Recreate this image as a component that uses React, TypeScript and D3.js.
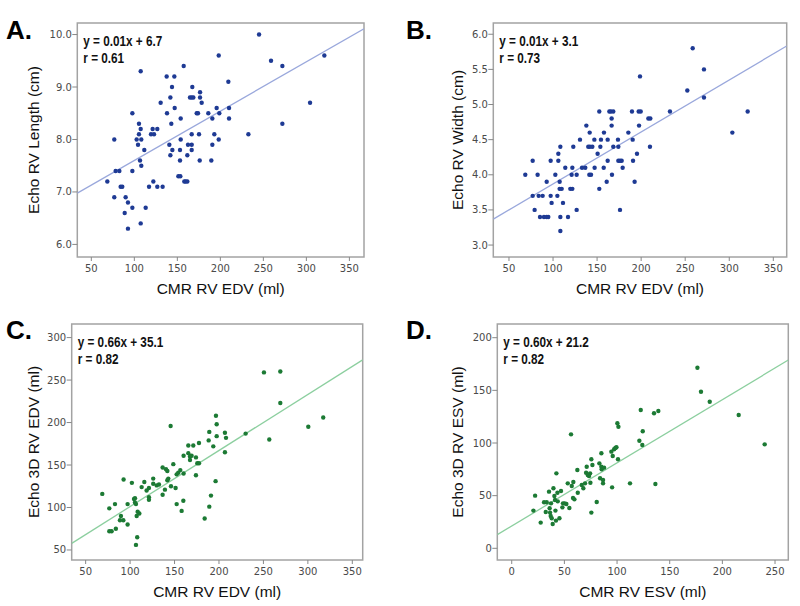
import React from "react";
import * as d3 from "d3";

// CMR RV EDV (ml) vs Echo RV Length (cm)
const lengthPts: [number, number][] = [
  [68.6,7.2],[76.7,8.0],[76.7,6.9],[78.3,7.4],[82.6,7.4],[84.1,7.1],[86,7.1],[88.8,6.6],[89.9,6.9],[92.6,6.8],
  [92.6,6.3],[97.7,8.5],[97.7,7.4],[97.7,6.7],[102.7,8.0],[104.3,7.9],[105.4,8.3],[105.4,8.1],[106.6,7.6],[107.4,9.3],
  [107.4,8.2],[108.1,8.0],[108.1,7.5],[107.4,6.4],[111.6,7.8],[113.2,6.7],[117.1,7.1],[119.4,8.1],[121.3,8.2],[122.1,7.2],
  [122.9,8.1],[126.7,8.2],[126.7,7.1],[130.6,8.7],[132.9,7.1],[137.6,9.2],[138,8.5],[140.7,7.9],[141.9,8.8],[141.9,7.7],
  [143,8.3],[143.8,9.0],[144.2,7.8],[146.5,9.2],[146.9,8.6],[151.2,7.3],[153.5,7.3],[153.1,7.6],[153.1,7.8],[153.9,8.4],
  [153.9,8.0],[157.4,9.4],[158.1,7.2],[159.7,7.2],[161.6,7.2],[161.6,7.7],[162.4,7.9],[164.7,8.8],[166.7,8.8],[168.6,8.8],
  [166.7,8.1],[166.7,7.9],[166.7,7.8],[167.4,9.0],[172.5,8.5],[174,8.5],[175.2,8.1],[176,7.6],[176.4,8.9],[176.4,8.8],
  [178.3,8.7],[186,8.5],[189.5,7.6],[190.7,8.4],[190.7,7.9],[193,8.1],[195.7,8.6],[198.1,9.6],[198.1,8.0],[198.8,8.5],
  [209.3,9.1],[210.1,8.6],[210.1,8.4],[232.6,8.1],[245,10.0],[258.9,9.5],[272.1,9.4],[272.1,8.3],[304.3,8.7],[320.9,9.6],
];

// CMR RV EDV (ml) vs Echo RV Width (cm)
const widthPts: [number, number][] = [
  [68.5,4.0],[76.9,4.2],[76.9,3.7],[79.1,3.5],[82.5,4.0],[83.7,3.7],[88.2,3.7],[85.2,3.4],[89.7,3.4],[92.8,3.4],
  [94.6,3.4],[92.8,3.9],[97.3,4.2],[97.3,3.7],[98.4,3.6],[102.6,4.0],[104.9,3.7],[106,4.3],[106,4.2],[107.5,3.9],
  [107.5,3.8],[109.8,3.8],[108.3,4.4],[108.3,3.4],[108.3,3.2],[111.3,3.6],[113.9,4.1],[117,3.4],[119.6,3.8],[121.9,3.8],
  [121.1,4.0],[121.9,4.1],[123,4.4],[126.8,4.0],[126.8,3.5],[130.6,4.5],[132.9,4.1],[136.6,4.1],[137.8,4.7],[140,4.4],
  [141.9,4.4],[144.6,4.4],[141.6,4.6],[141.2,4.0],[143.1,4.0],[146.9,4.5],[147.2,4.1],[150.6,4.3],[152.5,4.9],[152.5,3.8],
  [153.7,4.4],[154.4,4.5],[157.5,4.1],[157.8,4.6],[160.9,3.9],[162,4.2],[162,4.5],[163.9,4.9],[165.8,4.9],[168.4,4.9],
  [166.5,4.8],[166.5,4.7],[166.9,4.0],[168.4,4.4],[173.7,4.5],[174.1,4.4],[174.1,4.2],[176,4.2],[177.9,4.2],[176,3.5],
  [179,4.1],[185.5,4.6],[189.6,4.9],[190.4,4.5],[190.8,4.2],[192.6,3.9],[195.3,4.3],[197.2,4.9],[199.5,4.9],[197.6,4.7],
  [198.7,5.4],[208.2,4.8],[210.4,4.8],[210,4.4],[232.7,4.9],[252.4,5.2],[258.5,5.8],[271.3,5.5],[271.3,5.1],[303.5,4.6],
  [320.9,4.9],
];

// CMR RV EDV (ml) vs Echo 3D RV EDV (ml)
const edvPts: [number, number][] = [
  [68.7,116],[76.6,99],[76.6,72],[79.2,72],[83,104],[84,75],[88.6,85],[89.7,90],[92.4,85],[92.7,133],
  [97.2,104],[97.2,80],[102,129],[104.4,110],[105.5,106],[106.6,104],[105.5,111],[106.6,56],[107.4,90],[108,65],
  [108.5,95],[110.4,93],[113,124],[116,130],[118.6,120],[121.2,123],[121.2,112],[121.2,109],[126,134],[126,128],
  [129.9,126],[132.5,127],[136.6,115],[136.6,147],[139.2,121],[140.4,145],[141.9,143],[141.9,132],[143,134],[145.6,196],
  [146,125],[148.6,151],[151.2,123],[152.4,104],[152.4,139],[154.2,141],[156.5,144],[158,96],[159.9,108],[160.2,140],
  [160.2,161],[165.5,173],[165.5,164],[167.4,160],[167.4,156],[169.2,161],[171.1,173],[174.1,159],[175.6,152],[177.5,152],
  [174.1,138],[177.5,176],[183.9,87],[188.4,179],[189.1,189],[189.1,101],[191,114],[193.6,172],[196.2,131],[196.6,208],
  [197.4,198],[197.4,184],[206.7,188],[207.9,182],[206.7,165],[230,187],[250.6,259],[256.6,180],[269,260],[269,223],
  [300.5,195],[317.3,206],
];

// CMR RV ESV (ml) vs Echo 3D RV ESV (ml)
const esvPts: [number, number][] = [
  [20.6,35.8],[22.2,50],[27.5,24.4],[30.7,43.7],[32.3,34.5],[33.2,43.7],[35.4,53.8],[36,38],[36.4,33.9],[37,30.7],
  [37.3,42.7],[38,28.5],[38.9,23.1],[39.6,57],[40.5,49.7],[41.1,45.9],[41.5,35.8],[42,26.3],[42.4,71.2],[43.4,52.8],
  [43.7,44.6],[45.3,28.5],[46.8,54.4],[48.1,38.9],[48.7,42.7],[50.3,42.7],[51.9,42.1],[54.7,38.3],[53.2,61.7],[56.3,108.2],
  [57,59.2],[58.2,47.8],[59.5,46.5],[58.5,63],[62.3,74.4],[62.7,52.8],[66.5,60.1],[68,57],[69.6,61.7],[70.6,71.8],
  [72.2,69.6],[74.4,71.2],[71.2,77.5],[73.4,68.7],[74.7,62.3],[75.6,84.5],[76.6,79.1],[75.6,33.9],[80.7,44],[83.2,80.7],
  [83.9,66.5],[85.1,77.5],[85.4,75],[86.7,64.9],[85.1,90.2],[86.7,61.7],[87.7,76.6],[95.3,57.9],[94.6,91.8],[95.9,87.7],
  [97.2,94],[98.4,95.3],[99.4,95.9],[100.3,118.7],[101.3,115.5],[100.9,84.5],[112.3,61.7],[121.2,102.2],[122.5,131.3],[124,98.1],
  [124.4,111.1],[135.1,128.2],[139.2,130.4],[136.4,61.1],[176.3,171.5],[179.7,148.7],[188,139.2],[215.5,126.6],[240.2,98.7],
];

const panelLetters = ["A.", "B.", "C.", "D."];
const xTitles = ["CMR RV EDV (ml)", "CMR RV EDV (ml)", "CMR RV EDV (ml)", "CMR RV ESV (ml)"];
const yTitles = ["Echo RV Length (cm)", "Echo RV Width (cm)", "Echo 3D RV EDV (ml)", "Echo 3D RV ESV (ml)"];
const equations = ["y = 0.01x + 6.7", "y = 0.01x + 3.1", "y = 0.66x + 35.1", "y = 0.60x + 21.2"];
const rValues = ["r = 0.61", "r = 0.73", "r = 0.82", "r = 0.82"];
// fitted line [slope, intercept] as drawn
const fits: [number, number][] = [[0.0094, 6.66], [0.0074, 3.13], [0.66, 35.1], [0.60, 21.2]];
const xTicksEdv = [50, 100, 150, 200, 250, 300, 350];
const xTicksEsv = [0, 50, 100, 150, 200, 250];
const yTicksLength = [6, 7, 8, 9, 10];
const yTicksWidth = [3, 3.5, 4, 4.5, 5, 5.5, 6];
const yTicksEdv = [50, 100, 150, 200, 250, 300];
const yTicksEsv = [0, 50, 100, 150, 200];

const BLUE = "#1e3a94";
const BLUE_LINE = "#9aa8dc";
const GREEN = "#1c7a34";
const GREEN_LINE = "#8ccf9f";

const panels = [
  { pts: lengthPts, box: [77.3, 23, 364, 257], xd: [33.7, 367], yd: [5.76, 10.22], xt: xTicksEdv, yt: yTicksLength, yf: ".1f", dot: BLUE, line: BLUE_LINE, ox: 0, oy: 0, ty: 38.7 },
  { pts: widthPts, box: [493.3, 23, 786.7, 257], xd: [32.2, 365.2], yd: [2.83, 6.16], xt: xTicksEdv, yt: yTicksWidth, yf: ".1f", dot: BLUE, line: BLUE_LINE, ox: 400, oy: 0, ty: 462.5 },
  { pts: edvPts, box: [71.7, 324, 362.7, 560], xd: [34.3, 361.7], yd: [38.2, 316], xt: xTicksEdv, yt: yTicksEdv, yf: "d", dot: GREEN, line: GREEN_LINE, ox: 0, oy: 300, ty: 38.7 },
  { pts: esvPts, box: [497.3, 324, 788.3, 560], xd: [-13.7, 262.6], yd: [-11.1, 213], xt: xTicksEsv, yt: yTicksEsv, yf: "d", dot: GREEN, line: GREEN_LINE, ox: 400, oy: 300, ty: 462.5 },
];

function Panel({ i }: { i: number }) {
  const p = panels[i];
  const [x0, y0, x1, y1] = p.box;
  const x = d3.scaleLinear().domain(p.xd).range([x0, x1]);
  const y = d3.scaleLinear().domain(p.yd).range([y1, y0]);
  const fmt = d3.format(p.yf);
  const [m, b] = fits[i];
  const lineGen = d3.line<number>().x((v) => x(v)).y((v) => y(m * v + b));
  const tickColor = "#4a4a4a";
  const cx = (x0 + x1) / 2;
  const cy = (y0 + y1) / 2;
  const eqFont = "Liberation Sans, Arial, sans-serif";
  return (
    <g>
      <defs>
        <clipPath id={"clip" + i}>
          <rect x={x0} y={y0} width={x1 - x0} height={y1 - y0} />
        </clipPath>
      </defs>
      <rect x={x0} y={y0} width={x1 - x0} height={y1 - y0} fill="#fff" stroke="#a3a3a3" strokeWidth={1.5} />
      {p.xt.map((t) => (
        <g key={"x" + t}>
          <line x1={x(t)} x2={x(t)} y1={y1} y2={y1 + 4} stroke="#888" />
          <text x={x(t)} y={y1 + 14.5} textAnchor="middle" fontFamily="DejaVu Sans" fontSize={10} fill={tickColor}>{t}</text>
        </g>
      ))}
      {p.yt.map((t) => (
        <g key={"y" + t}>
          <line x1={x0 - 5} x2={x0} y1={y(t)} y2={y(t)} stroke="#888" />
          <text x={x0 - 5.5} y={y(t) + 3.5} textAnchor="end" fontFamily="DejaVu Sans" fontSize={10} fill={tickColor}>{fmt(t)}</text>
        </g>
      ))}
      <path d={lineGen(p.xd) || ""} stroke={p.line} strokeWidth={1.3} fill="none" clipPath={`url(#clip${i})`} />
      {p.pts.map((d, k) => (
        <circle key={k} cx={x(d[0])} cy={y(d[1])} r={2.2} fill={p.dot} />
      ))}
      <g transform={`translate(${x0 + 6},${y0}) scale(0.84,1)`}>
        <text x={0} y={23.5} fontFamily={eqFont} fontWeight="bold" fontSize={14} fill="#111">{equations[i]}</text>
        <text x={0} y={40} fontFamily={eqFont} fontWeight="bold" fontSize={14} fill="#111">{rValues[i]}</text>
      </g>
      <text x={p.ox + 6} y={p.oy + 39} fontFamily="Liberation Sans, Arial, sans-serif" fontWeight="bold" fontSize={26} fill="#000">{panelLetters[i]}</text>
      <text x={cx} y={y1 + 37} textAnchor="middle" fontFamily="Liberation Sans, Arial, sans-serif" fontSize={15.5} fill="#111">{xTitles[i]}</text>
      <text transform={`translate(${p.ty},${cy}) rotate(-90)`} textAnchor="middle" fontFamily="Liberation Sans, Arial, sans-serif" fontSize={15.5} fill="#111">{yTitles[i]}</text>
    </g>
  );
}

export default function App() {
  return (
    <svg width={800} height={606} style={{ position: "absolute", left: 0, top: 0, background: "#fff" }}>
      <rect width={800} height={606} fill="#fff" />
      {panels.map((_, i) => <Panel key={i} i={i} />)}
    </svg>
  );
}
